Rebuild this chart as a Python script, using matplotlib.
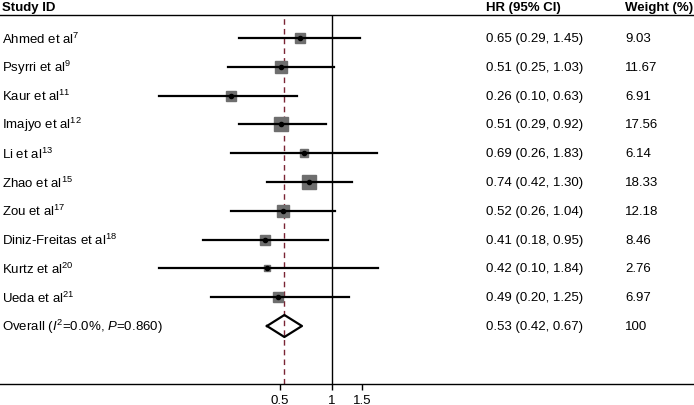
import numpy as np
import matplotlib
matplotlib.use("Agg")
import matplotlib.pyplot as plt

plt.rcParams['font.family'] = ['Liberation Sans', 'DejaVu Sans']
plt.rcParams['mathtext.fontset'] = 'custom'
plt.rcParams['mathtext.rm'] = 'Liberation Sans'
plt.rcParams['mathtext.it'] = 'Liberation Sans:italic'

# Study data
studies = ["Ahmed et al", "Psyrri et al", "Kaur et al", "Imajyo et al", "Li et al",
           "Zhao et al", "Zou et al", "Diniz-Freitas et al", "Kurtz et al", "Ueda et al"]
refs = ["7", "9", "11", "12", "13", "15", "17", "18", "20", "21"]
hr = [0.65, 0.51, 0.26, 0.51, 0.69, 0.74, 0.52, 0.41, 0.42, 0.49]
lo = [0.29, 0.25, 0.10, 0.29, 0.26, 0.42, 0.26, 0.18, 0.10, 0.20]
hi = [1.45, 1.03, 0.63, 0.92, 1.83, 1.30, 1.04, 0.95, 1.84, 1.25]
weights = [9.03, 11.67, 6.91, 17.56, 6.14, 18.33, 12.18, 8.46, 2.76, 6.97]

overall_hr = 0.53
overall_lo = 0.42
overall_hi = 0.67
overall_label = r"Overall ($\mathit{I}^{2}$=0.0%, $\mathit{P}$=0.860)"

xticks = [0.5, 1, 1.5]
xticklabels = ["0.5", "1", "1.5"]

FS = 9.5
W, H = 694, 406
fig = plt.figure(figsize=(W / 100, H / 100), dpi=100)

# axes: full width, from header line (y=16px) to axis line (y=385px)
top_px, bot_px = 16, 385
ax = fig.add_axes([0, (H - bot_px) / H, 1, (bot_px - top_px) / H])
ax.set_xscale('log')
# x pixel = 332 + 75 * ln(v)
ax.set_xlim(np.exp(-332 / 75), np.exp((W - 332) / 75))
row0, step = 39, 28.8
ax.set_ylim((bot_px - row0) / step, (top_px - row0) / step)

for s in ['left', 'right']:
    ax.spines[s].set_visible(False)
ax.spines['top'].set_linewidth(1.0)
ax.spines['bottom'].set_linewidth(1.0)
ax.set_yticks([])
ax.set_xticks(xticks)
ax.set_xticklabels(xticklabels, fontsize=FS)
ax.minorticks_off()
ax.tick_params(axis='x', direction='out', length=4, width=1, pad=3)

n = len(studies)
ys = np.arange(n)

# null line and pooled estimate line
ax.axvline(1, color='black', lw=1.0)
ax.axvline(overall_hr, color='#7a2434', lw=1.0, ls=(0, (4, 3)))

for i in range(n):
    ax.plot([lo[i], hi[i]], [ys[i], ys[i]], color='black', lw=1.6, zorder=3)
    ax.plot(hr[i], ys[i], marker='s', color='#6e6e6e', mec='#6e6e6e',
            markersize=2.52 * np.sqrt(weights[i]), zorder=2)
    ax.plot(hr[i], ys[i], marker='o', color='black', markersize=3, zorder=4)

# overall diamond
yo = n
dh = 11 / step
ax.plot([overall_lo, overall_hr, overall_hi, overall_hr, overall_lo],
        [yo, yo - dh, yo, yo + dh, yo], color='black', lw=1.6, zorder=4)

# text columns
fx = lambda px: px / W
blend = matplotlib.transforms.blended_transform_factory(fig.transFigure, ax.transData)
hy = (8 - row0) / step
ax.text(fx(2), hy, "Study ID", transform=blend, fontsize=FS, fontweight='bold', va='center')
ax.text(fx(486), hy, "HR (95% CI)", transform=blend, fontsize=FS, fontweight='bold', va='center')
ax.text(fx(625), hy, "Weight (%)", transform=blend, fontsize=FS, fontweight='bold', va='center')

for i in range(n):
    ax.text(fx(2), ys[i], studies[i] + r"$^{\mathregular{" + refs[i] + "}}$",
            transform=blend, fontsize=FS, va='center')
    ax.text(fx(486), ys[i], f"{hr[i]:.2f} ({lo[i]:.2f}, {hi[i]:.2f})",
            transform=blend, fontsize=FS, va='center')
    ax.text(fx(625), ys[i], f"{weights[i]:.2f}", transform=blend, fontsize=FS, va='center')

ax.text(fx(2), yo, overall_label, transform=blend, fontsize=FS, va='center')
ax.text(fx(486), yo, f"{overall_hr:.2f} ({overall_lo:.2f}, {overall_hi:.2f})",
        transform=blend, fontsize=FS, va='center')
ax.text(fx(625), yo, "100", transform=blend, fontsize=FS, va='center')

fig.savefig("out.png", dpi=100)
